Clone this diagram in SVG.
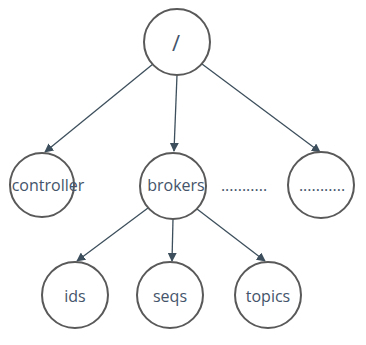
<svg xmlns="http://www.w3.org/2000/svg" width="366" height="345" viewBox="0 0 366 345">
<defs>
<marker id="arr" viewBox="0 0 10 10" refX="9" refY="5" markerWidth="9" markerHeight="9" markerUnits="userSpaceOnUse" orient="auto">
<path d="M0,0 L10,5 L0,10 z" fill="#3d4f5c"/>
</marker>
<style>
.node circle{fill:#fff;stroke:#595959;stroke-width:2}
.node text{font-family:"Open Sans","Liberation Sans",sans-serif;font-size:16px;fill:#44546A;text-anchor:middle}
#edges line{stroke:#3d4f5c;stroke-width:1.3;marker-end:url(#arr)}
.dots{font-family:"Open Sans","Liberation Sans",sans-serif;font-size:16px;fill:#44546A;text-anchor:middle}
</style>
</defs>
<rect width="366" height="345" fill="#fff"/>
<g id="edges">
<line x1="153" y1="64" x2="45" y2="152"/>
<line x1="177" y1="75" x2="174" y2="151"/>
<line x1="202" y1="64" x2="320" y2="152"/>
<line x1="148" y1="208" x2="77" y2="261"/>
<line x1="173" y1="219" x2="172" y2="261"/>
<line x1="197" y1="209" x2="265" y2="261"/>
</g>
<g id="root" class="node"><circle cx="177" cy="42" r="33"/><text x="176" y="51" style="font-size:22px">/</text></g>
<g id="controller" class="node"><circle cx="42" cy="185" r="32"/><text x="48" y="191">controller</text></g>
<g id="brokers" class="node"><circle cx="173" cy="186" r="33"/><text x="176" y="191">brokers</text></g>
<text class="dots" x="244" y="191">...........</text>
<g id="more" class="node"><circle cx="321" cy="185" r="33"/><text x="322" y="191">...........</text></g>
<g id="ids" class="node"><circle cx="75" cy="295" r="33"/><text x="75" y="302">ids</text></g>
<g id="seqs" class="node"><circle cx="170" cy="295" r="33"/><text x="170" y="302">seqs</text></g>
<g id="topics" class="node"><circle cx="268" cy="295" r="33"/><text x="268" y="302">topics</text></g>
</svg>
